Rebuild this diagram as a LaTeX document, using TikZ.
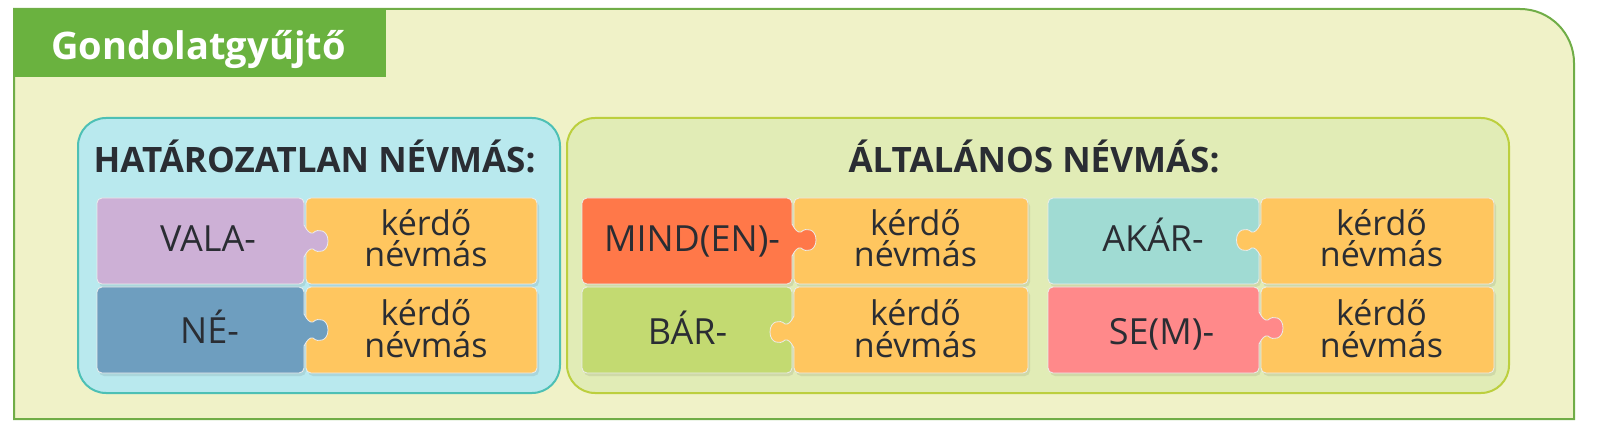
\documentclass[tikz,border=0pt]{standalone}
\usepackage{fontspec}
\setmainfont{Open Sans}
\definecolor{outerbg}{HTML}{F0F2C8}
\definecolor{outerline}{HTML}{70AD47}
\definecolor{titlegreen}{HTML}{6AB23F}
\definecolor{bluebg}{HTML}{B9E9EE}
\definecolor{blueline}{HTML}{4DC0B5}
\definecolor{greenbg}{HTML}{E1ECB6}
\definecolor{greenline}{HTML}{BCCF3E}
\definecolor{cOrange}{HTML}{FFC65F}
\definecolor{cPurple}{HTML}{CDB0D6}
\definecolor{cSteel}{HTML}{6E9EBF}
\definecolor{cRed}{HTML}{FF7849}
\definecolor{cGreen}{HTML}{C3DA71}
\definecolor{cTeal}{HTML}{A0DBD3}
\definecolor{cPink}{HTML}{FF898A}
\definecolor{txt}{HTML}{2A2D33}
\newcommand\knobpath[3]{({#1},{#2-16}) .. controls ({#1+(#3)*3},{#2-10}) and ({#1+(#3)*6},{#2-7}) .. ({#1+(#3)*9},{#2-8}) .. controls ({#1+(#3)*14},{#2-13}) and ({#1+(#3)*24},{#2-11}) .. ({#1+(#3)*24},{#2}) .. controls ({#1+(#3)*24},{#2+11}) and ({#1+(#3)*14},{#2+13}) .. ({#1+(#3)*9},{#2+8}) .. controls ({#1+(#3)*6},{#2+7}) and ({#1+(#3)*3},{#2+10}) .. ({#1},{#2+16})}
\newcommand\knob[4]{%
  \fill[#4] ({#1-(#3)*3},{#2-16}) -- \knobpath{#1}{#2}{#3} -- ({#1-(#3)*3},{#2+16}) -- cycle;
  \draw[knobedge] \knobpath{#1}{#2}{#3};
}
\begin{document}
\begin{tikzpicture}[x=1pt,y=-1pt,
  panel/.style={rounded corners=28pt, line width=2pt, inner sep=0pt, minimum height=275pt},
  piece/.style={rounded corners=5pt, draw=white!85!gray, line width=0.8pt, inner sep=0pt, minimum height=86pt,
    preaction={fill=black, opacity=0.08, transform canvas={shift={(2pt,-3pt)}}}},
  knobedge/.style={draw=white!85!gray, line width=0.8pt},
  lbl/.style={anchor=base, inner sep=0pt, text=txt, font=\fontsize{36}{36}\selectfont},
  sub/.style={anchor=base, inner sep=0pt, text=txt, font=\fontsize{34}{34}\selectfont},
  head/.style={anchor=base, inner sep=0pt, text=txt, font=\bfseries\fontsize{35}{35}\selectfont},
]
\useasboundingbox (0,0) rectangle (1598,446);
% outer frame
\draw[fill=outerbg, draw=outerline, line width=2pt] (14,419) -- (14,9) -- (1520,9) .. controls (1549.8,9) and (1574,33.2) .. (1574,63) -- (1574,419) -- cycle;
\node[fill=titlegreen, minimum width=372pt, minimum height=68pt, inner sep=0pt] (titlebox) at (200,43) {};
\node[anchor=base, inner sep=0pt, text=white, font=\bfseries\fontsize{38}{38}\selectfont] (title) at (198.5,60) {Gondolatgyűjtő};
% panels
\node[panel, fill=bluebg, draw=blueline, minimum width=482pt] (leftpanel) at (319,255.5) {};
\node[panel, fill=greenbg, draw=greenline, minimum width=942pt] (rightpanel) at (1038,255.5) {};
\node[head] (h1) at (314.5,173) {HATÁROZATLAN NÉVMÁS:};
\node[head] (h2) at (1034,173) {ÁLTALÁNOS NÉVMÁS:};
% left panel pieces
\node[piece, fill=cPurple, minimum width=207pt] (vala) at (200.5,241) {};
\node[piece, fill=cOrange, minimum width=231pt] (k1) at (421.5,241) {};
\node[piece, fill=cSteel, minimum width=207pt] (ne) at (200.5,330) {};
\node[piece, fill=cOrange, minimum width=231pt] (k2) at (421.5,330) {};
% right panel pieces
\node[piece, fill=cRed, minimum width=210pt] (mind) at (687,241) {};
\node[piece, fill=cOrange, minimum width=234pt] (k3) at (911,241) {};
\node[piece, fill=cGreen, minimum width=210pt] (bar) at (687,330) {};
\node[piece, fill=cOrange, minimum width=234pt] (k4) at (911,330) {};
\node[piece, fill=cTeal, minimum width=211pt] (akar) at (1153.5,241) {};
\node[piece, fill=cOrange, minimum width=233pt] (k5) at (1377.5,241) {};
\node[piece, fill=cPink, minimum width=211pt] (sem) at (1153.5,330) {};
\node[piece, fill=cOrange, minimum width=233pt] (k6) at (1377.5,330) {};
% knobs
\knob{304}{241}{1}{cPurple}
\knob{304}{330}{1}{cSteel}
\knob{792}{240}{1}{cRed}
\knob{794}{332}{-1}{cOrange}
\knob{1260.5}{240}{-1}{cOrange}
\knob{1259}{328}{1}{cPink}
% labels
\node[lbl] (tvala) at (208,252) {VALA-};
\node[lbl] (tne) at (209.5,343) {NÉ-};
\node[lbl] (tmind) at (692,252) {MIND(EN)-};
\node[lbl] (tbar) at (687.5,344) {BÁR-};
\node[lbl] (takar) at (1153,252) {AKÁR-};
\node[lbl] (tsem) at (1161.5,344) {SE(M)-};
\node[sub] (k1a) at (426,236) {kérdő};
\node[sub] (k1b) at (426,267) {névmás};
\node[sub] (k2a) at (426,326) {kérdő};
\node[sub] (k2b) at (426,357) {névmás};
\node[sub] (k3a) at (915.5,236) {kérdő};
\node[sub] (k3b) at (915.5,267) {névmás};
\node[sub] (k4a) at (915.5,326) {kérdő};
\node[sub] (k4b) at (915.5,357) {névmás};
\node[sub] (k5a) at (1381.5,236) {kérdő};
\node[sub] (k5b) at (1381.5,267) {névmás};
\node[sub] (k6a) at (1381.5,326) {kérdő};
\node[sub] (k6b) at (1381.5,357) {névmás};
\end{tikzpicture}
\end{document}
